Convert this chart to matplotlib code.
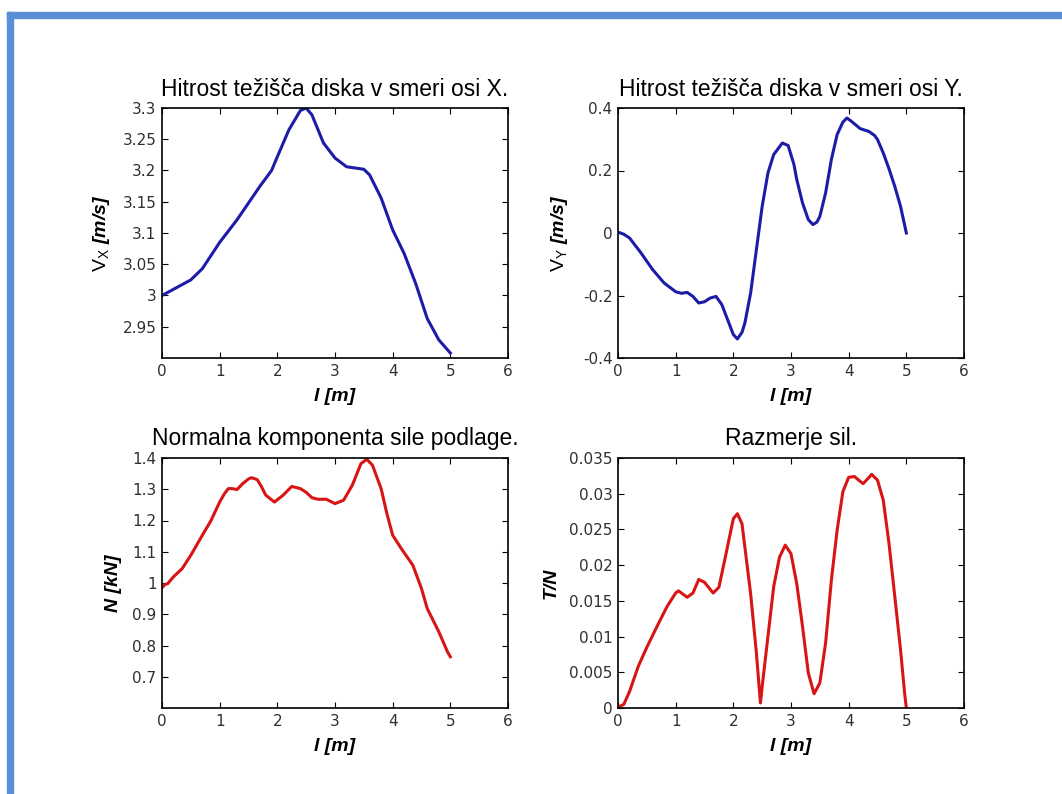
import matplotlib
matplotlib.use("Agg")
import matplotlib.pyplot as plt
from matplotlib.patches import Rectangle

plt.rcParams['font.family'] = ['Liberation Sans', 'DejaVu Sans']
plt.rcParams['mathtext.fontset'] = 'custom'
plt.rcParams['mathtext.rm'] = 'Liberation Sans'
plt.rcParams['mathtext.it'] = 'Liberation Sans:italic'

# Horizontal velocity of the disc centre of mass
vx_l = [0.0, 0.2, 0.5, 0.7, 1.0, 1.3, 1.5, 1.7, 1.9, 2.0, 2.2, 2.4, 2.5, 2.6, 2.8,
        3.0, 3.2, 3.5, 3.6, 3.8, 4.0, 4.2, 4.4, 4.6, 4.8, 5.0]
vx_v = [3.000, 3.010, 3.025, 3.043, 3.085, 3.121, 3.148, 3.175, 3.200, 3.222, 3.265,
        3.296, 3.300, 3.289, 3.244, 3.220, 3.206, 3.202, 3.193, 3.156, 3.105, 3.067,
        3.019, 2.963, 2.929, 2.908]

# Vertical velocity of the disc centre of mass
vy_l = [0.0, 0.1, 0.2, 0.4, 0.6, 0.8, 1.0, 1.1, 1.2, 1.3, 1.4, 1.5, 1.6, 1.7, 1.8,
        1.9, 2.0, 2.07, 2.15, 2.2, 2.3, 2.4, 2.5, 2.6, 2.7, 2.85, 2.95, 3.05, 3.1,
        3.2, 3.3, 3.38, 3.45, 3.5, 3.6, 3.7, 3.8, 3.9, 3.97, 4.05, 4.2, 4.35, 4.45,
        4.5, 4.6, 4.7, 4.8, 4.9, 5.0]
vy_v = [0.003, -0.004, -0.016, -0.064, -0.117, -0.160, -0.188, -0.193, -0.190,
        -0.203, -0.224, -0.220, -0.208, -0.203, -0.229, -0.277, -0.325, -0.339,
        -0.318, -0.288, -0.192, -0.053, 0.085, 0.192, 0.251, 0.288, 0.280, 0.220,
        0.171, 0.096, 0.043, 0.027, 0.035, 0.053, 0.128, 0.235, 0.315, 0.355, 0.368,
        0.357, 0.334, 0.325, 0.312, 0.299, 0.256, 0.205, 0.149, 0.085, 0.0]

# Normal component of the ground reaction
n_l = [0.0, 0.05, 0.1, 0.2, 0.35, 0.5, 0.7, 0.85, 1.0, 1.08, 1.15, 1.22, 1.3, 1.4,
       1.5, 1.55, 1.65, 1.72, 1.8, 1.95, 2.1, 2.25, 2.4, 2.5, 2.6, 2.7, 2.85, 3.0,
       3.15, 3.3, 3.45, 3.55, 3.65, 3.8, 3.9, 4.0, 4.15, 4.35, 4.5, 4.6, 4.8, 4.95,
       5.0]
n_v = [0.985, 0.995, 0.998, 1.020, 1.046, 1.089, 1.153, 1.200, 1.259, 1.285, 1.302,
       1.302, 1.299, 1.318, 1.333, 1.337, 1.331, 1.310, 1.281, 1.259, 1.281, 1.309,
       1.302, 1.290, 1.273, 1.268, 1.268, 1.254, 1.265, 1.313, 1.382, 1.396, 1.377,
       1.302, 1.222, 1.153, 1.110, 1.057, 0.982, 0.918, 0.844, 0.780, 0.764]

# Ratio of tangential to normal force
tn_l = [0.0, 0.1, 0.2, 0.35, 0.5, 0.7, 0.85, 1.0, 1.05, 1.2, 1.3, 1.4, 1.5, 1.65,
        1.75, 1.85, 2.0, 2.07, 2.15, 2.3, 2.4, 2.47, 2.5, 2.6, 2.7, 2.8, 2.9, 3.0,
        3.1, 3.2, 3.3, 3.4, 3.5, 3.6, 3.7, 3.8, 3.9, 4.0, 4.1, 4.25, 4.4, 4.5, 4.6,
        4.7, 4.8, 4.9, 4.97, 5.0]
tn_v = [0.00014, 0.0005, 0.0023, 0.0058, 0.0085, 0.0118, 0.0142, 0.0161, 0.0164,
        0.0155, 0.0161, 0.0180, 0.0176, 0.0161, 0.0169, 0.0207, 0.0265, 0.0272,
        0.0258, 0.0160, 0.0077, 0.0007, 0.0030, 0.0100, 0.0170, 0.0211, 0.0228,
        0.0216, 0.0174, 0.0114, 0.0049, 0.0020, 0.0035, 0.0091, 0.0179, 0.0249,
        0.0303, 0.0323, 0.0324, 0.0314, 0.0327, 0.0319, 0.0291, 0.0230, 0.0156,
        0.0081, 0.0021, 0.0]

x_ticks = [0, 1, 2, 3, 4, 5, 6]

W, H = 1062, 794
fig = plt.figure(figsize=(W / 100, H / 100), dpi=100)

# frame along the top and left edges
frame_col = '#5a8fd6'
fig.patches.append(Rectangle((7 / W, (H - 18) / H), 1 - 7 / W, 6 / H,
                             transform=fig.transFigure, color=frame_col, zorder=0))
fig.patches.append(Rectangle((7 / W, 0), 6 / W, (H - 12) / H,
                             transform=fig.transFigure, color=frame_col, zorder=0))


def make_axes(px_left, px_top):
    return fig.add_axes([px_left / W, (H - px_top - 250) / H, 346 / W, 250 / H])


panels = [
    dict(pos=(162, 108), x=vx_l, y=vx_v, col='#1c1ca8', ylim=(2.9, 3.3),
         yt=[2.95, 3.0, 3.05, 3.1, 3.15, 3.2, 3.25, 3.3],
         ytl=['2.95', '3', '3.05', '3.1', '3.15', '3.2', '3.25', '3.3'],
         title='Hitrost težišča diska v smeri osi X.',
         ylabel=r'$\mathrm{V}_{\mathrm{X}}$ [m/s]', ylx=-0.145),
    dict(pos=(618, 108), x=vy_l, y=vy_v, col='#1c1ca8', ylim=(-0.4, 0.4),
         yt=[-0.4, -0.2, 0.0, 0.2, 0.4],
         ytl=['-0.4', '-0.2', '0', '0.2', '0.4'],
         title='Hitrost težišča diska v smeri osi Y.',
         ylabel=r'$\mathrm{V}_{\mathrm{Y}}$ [m/s]', ylx=-0.139),
    dict(pos=(162, 458), x=n_l, y=n_v, col='#d81414', ylim=(0.6, 1.4),
         yt=[0.7, 0.8, 0.9, 1.0, 1.1, 1.2, 1.3, 1.4],
         ytl=['0.7', '0.8', '0.9', '1', '1.1', '1.2', '1.3', '1.4'],
         title='Normalna komponenta sile podlage.',
         ylabel='N [kN]', ylx=-0.116),
    dict(pos=(618, 458), x=tn_l, y=tn_v, col='#d81414', ylim=(0.0, 0.035),
         yt=[0, 0.005, 0.01, 0.015, 0.02, 0.025, 0.03, 0.035],
         ytl=['0', '0.005', '0.01', '0.015', '0.02', '0.025', '0.03', '0.035'],
         title='Razmerje sil.',
         ylabel='T/N', ylx=-0.17),
]

for p in panels:
    ax = make_axes(*p['pos'])
    ax.plot(p['x'], p['y'], color=p['col'], lw=2.2, solid_joinstyle='round')
    ax.set_xlim(0, 6)
    ax.set_ylim(*p['ylim'])
    ax.set_xticks(x_ticks)
    ax.set_xticklabels([str(t) for t in x_ticks])
    ax.set_yticks(p['yt'])
    ax.set_yticklabels(p['ytl'])
    ax.tick_params(direction='in', length=4, width=0.8, top=True, right=True,
                   labelcolor='#303030', pad=4)
    for tl in ax.get_xticklabels() + ax.get_yticklabels():
        tl.set_family(['DejaVu Sans'])
        tl.set_fontsize(11)
    for s in ax.spines.values():
        s.set_linewidth(1.2)
    ax.set_title(p['title'], fontsize=16.5, pad=9, color='black')
    ax.set_xlabel('l [m]', fontsize=14, style='italic', fontweight='bold')
    ax.xaxis.set_label_coords(0.5, -0.12)
    ax.set_ylabel(p['ylabel'], fontsize=14, style='italic', fontweight='bold')
    ax.yaxis.set_label_coords(p['ylx'], 0.5)

fig.savefig('out.png', dpi=100, facecolor='white')
